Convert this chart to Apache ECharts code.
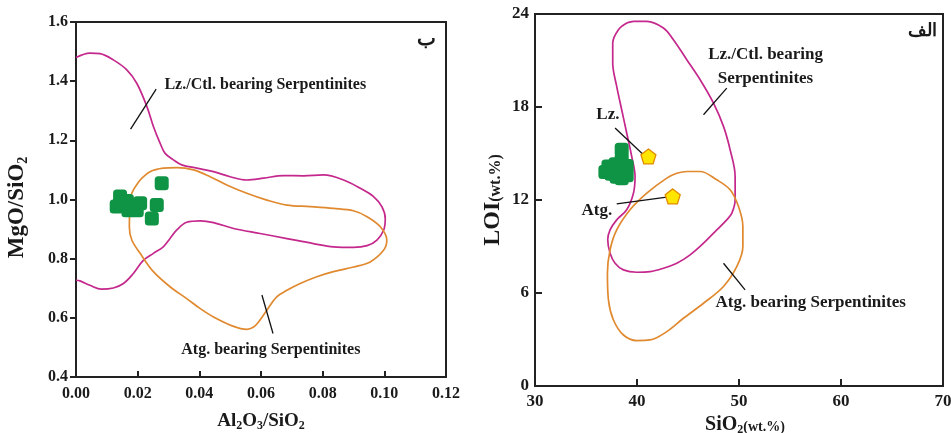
<!DOCTYPE html>
<html><head><meta charset="utf-8">
<script src="https://cdn.jsdelivr.net/npm/echarts@6/dist/echarts.min.js"></script>
<style>html,body{margin:0;padding:0;background:#fff}#c{width:951px;height:433px}</style>
</head><body><div id="c"></div>
<script>
// ---------- Left diagram (ب): Al2O3/SiO2 vs MgO/SiO2 ----------
const leftLzCtl = [[0,1.480],[0.0045,1.495],[0.0078,1.493],[0.0121,1.472],[0.0164,1.439],[0.0197,1.393],[0.023,1.314],[0.0251,1.247],[0.0273,1.190],[0.0289,1.156],[0.0316,1.134],[0.0343,1.117],[0.0392,1.106],[0.0446,1.094],[0.050,1.077],[0.0554,1.066],[0.0608,1.072],[0.0673,1.081],[0.0738,1.080],[0.0803,1.083],[0.0868,1.066],[0.0922,1.038],[0.0965,1.010],[0.0992,0.976],[0.1003,0.936],[0.0998,0.897],[0.0976,0.863],[0.0944,0.844],[0.090,0.838],[0.0835,0.840],[0.077,0.851],[0.0684,0.868],[0.0597,0.885],[0.0511,0.902],[0.0446,0.922],[0.0403,0.928],[0.0359,0.923],[0.0327,0.897],[0.0305,0.868],[0.0283,0.840],[0.0251,0.818],[0.0219,0.795],[0.0186,0.750],[0.0154,0.716],[0.0121,0.701],[0.0083,0.697],[0.0045,0.710],[0.0013,0.725],[0,0.727]];
const leftAtg = [[0.0208,1.066],[0.024,1.094],[0.0283,1.106],[0.0327,1.108],[0.0381,1.100],[0.0435,1.077],[0.0489,1.049],[0.0554,1.021],[0.0619,0.998],[0.0684,0.981],[0.076,0.976],[0.0835,0.970],[0.090,0.962],[0.0944,0.942],[0.0987,0.908],[0.1008,0.863],[0.0998,0.829],[0.0954,0.789],[0.090,0.772],[0.0835,0.756],[0.0781,0.739],[0.0727,0.716],[0.0684,0.693],[0.0651,0.671],[0.0619,0.626],[0.0592,0.586],[0.0576,0.569],[0.0554,0.561],[0.0511,0.571],[0.0446,0.603],[0.0403,0.631],[0.0359,0.665],[0.0305,0.705],[0.0251,0.756],[0.0208,0.818],[0.0181,0.863],[0.0173,0.908],[0.0175,0.976],[0.0181,1.021],[0.0208,1.066]];
const leftSamples = [[0.0143,1.010],[0.0132,0.976],[0.0154,0.987],[0.0170,0.964],[0.0186,0.981],[0.0208,0.987],[0.0197,0.964],[0.0165,0.995],[0.0246,0.936],[0.0262,0.981],[0.0278,1.055]];
const leftXTicks = {min:0, max:0.12, step:0.02};
const leftYTicks = {min:0.4, max:1.6, step:0.2};

// ---------- Right diagram (الف): SiO2 vs LOI ----------
const rightLzCtl = [[39.65,23.53],[40.96,23.53],[42.59,23.10],[43.57,22.34],[44.88,21.05],[46.19,19.76],[47.5,18.25],[48.48,16.75],[49.13,15.24],[49.62,13.52],[49.62,12.01],[49.3,11.15],[48.8,10.72],[47.82,10.07],[46.52,9.21],[45.21,8.46],[43.9,7.92],[42.59,7.60],[41.28,7.38],[39.98,7.34],[38.67,7.49],[37.85,7.92],[37.36,8.57],[37.13,9.43],[37.36,10.07],[38.01,10.72],[38.99,11.37],[39.65,12.44],[39.81,13.52],[39.48,14.81],[38.99,16.32],[38.5,17.82],[38.01,19.33],[37.62,20.84],[37.62,22.13],[38.18,22.99],[39.0,23.42],[39.65,23.53]];
const rightAtg = [[44.88,13.84],[46.19,13.84],[47.82,13.30],[49.13,12.66],[49.95,11.58],[50.38,10.29],[50.38,9.0],[49.79,7.71],[48.48,6.42],[46.52,5.34],[44.55,4.37],[42.92,3.51],[41.28,2.97],[39.98,2.93],[38.67,3.29],[37.69,4.26],[37.2,5.55],[37.1,7.28],[37.36,8.78],[38.01,10.07],[39.32,11.37],[40.96,12.44],[42.92,13.41],[43.9,13.73],[44.88,13.84]];
const rightSamples = [[38.5,15.24],[38.5,14.59],[38.5,13.95],[38.5,13.40],[37.2,14.16],[36.9,13.8],[37.5,13.7],[38.0,13.5],[38.99,13.6],[38.99,14.2],[37.9,14.3]];
const refLz = [[41.12,14.81]];
const refAtg = [[43.5,12.23]];
const rightXTicks = {min:30, max:70, step:10};
const rightYTicks = {min:0, max:24, step:6};

// ---------- Annotations (text and leader lines) ----------
const leftTexts = [
  {name:'Lz./Ctl. bearing Serpentinites', value:[0.0614,1.387]},
  {name:'Atg. bearing Serpentinites', value:[0.0632,0.492]}
];
const leftTag = [{name:'ب', value:[0.1138,1.539]}];
const leftLeaders = [
  [[0.0177,1.238],[0.0260,1.373]],
  [[0.0603,0.677],[0.0639,0.547]]
];
const rightTexts = [
  {name:'Lz./Ctl. bearing\nSerpentinites', value:[52.6,20.6]},
  {name:'Lz.', value:[37.15,17.49]},
  {name:'Atg.', value:[36.07,11.29]},
  {name:'Atg. bearing Serpentinites', value:[57.03,5.36]}
];
const rightTag = [{name:'الف', value:[68.0,22.86]}];
const rightLeaders = [
  [[46.52,17.5],[48.8,19.22]],
  [[37.85,16.64],[40.63,14.92]],
  [[38.01,11.75],[42.92,12.18]],
  [[48.48,7.92],[50.6,6.2]]
];

const MAG = '#c4288c', ORA = '#e0892f', GRN = '#0f9445';
const FONT = '"Liberation Serif", "DejaVu Serif", serif';
const lbl = {fontFamily: FONT, fontWeight: 'bold', color: '#1a1a1a'};
const pent = 'path://M0,-10 L9.5,-3.1 L5.9,8.1 L-5.9,8.1 L-9.5,-3.1 Z';

function axis(t, idx, extra) {
  return Object.assign({
    type: 'value', gridIndex: idx, min: t.min, max: t.max, interval: t.step,
    splitLine: {show: false},
    axisLine: {show: true, lineStyle: {color: '#222', width: 2}},
    axisTick: {show: true, length: 6, lineStyle: {color: '#222', width: 2}},
    axisLabel: Object.assign({fontSize: 16}, lbl),
    nameLocation: 'middle'
  }, extra);
}
function rich(big, sub, small) {
  return {
    a: {fontFamily: FONT, fontWeight: 'bold', fontSize: big, color: '#1a1a1a'},
    s: {fontFamily: FONT, fontWeight: 'bold', fontSize: sub, color: '#1a1a1a', padding: [Math.round(big * 0.5), 0, 0, 0]},
    w: {fontFamily: FONT, fontWeight: 'bold', fontSize: small, color: '#1a1a1a', padding: [Math.round(big * 0.25), 0, 0, 0]}
  };
}
function line(data, color, xi, smooth) {
  return {type: 'line', xAxisIndex: xi, yAxisIndex: xi, data: data, symbol: 'none',
    smooth: smooth, lineStyle: {color: color, width: 1.7}, silent: true, z: 2};
}
function leaders(list, xi) {
  return list.map(d => ({type: 'line', xAxisIndex: xi, yAxisIndex: xi, data: d, symbol: 'none',
    lineStyle: {color: '#111', width: 1.3}, silent: true, z: 3}));
}
function texts(list, xi, size, lh) {
  return {type: 'scatter', xAxisIndex: xi, yAxisIndex: xi, data: list, symbolSize: 0, z: 5,
    itemStyle: {opacity: 1},
    label: Object.assign({show: true, position: 'inside', formatter: p => p.name, fontSize: size,
      lineHeight: lh || 24, align: 'center', textBorderWidth: 0}, lbl)};
}

const chart = echarts.init(document.getElementById('c'));
chart.setOption({
  animation: false,
  grid: [
    {left: 76, top: 22, width: 370, height: 355, show: true, borderColor: '#222', borderWidth: 2,
      containLabel: false, outerBoundsMode: 'none'},
    {left: 535, top: 14, width: 408, height: 372, show: true, borderColor: '#222', borderWidth: 2,
      containLabel: false, outerBoundsMode: 'none'}
  ],
  xAxis: [
    axis(leftXTicks, 0, {axisLabel: Object.assign({fontSize: 16, margin: 9, formatter: v => v.toFixed(2)}, lbl),
      axisTick: {show: true, inside: true, length: 6, lineStyle: {color: '#222', width: 2}},
      name: '{a|Al}{s|2}{a|O}{s|3}{a|/SiO}{s|2}', nameGap: 33, nameTextStyle: {rich: rich(19, 12, 14)}}),
    axis(rightXTicks, 1, {axisLabel: Object.assign({fontSize: 17, margin: 7}, lbl),
      axisTick: {show: true, inside: true, length: 7, lineStyle: {color: '#222', width: 2}},
      name: '{a|SiO}{s|2}{w|(wt.%)}', nameGap: 25, nameTextStyle: {rich: rich(20, 12, 14), padding: [0, 0, 0, 12]}})
  ],
  yAxis: [
    axis(leftYTicks, 0, {axisLabel: Object.assign({fontSize: 16, margin: 8, formatter: v => v.toFixed(1)}, lbl),
      name: '{a|MgO/SiO}{s|2}', nameGap: 46, nameTextStyle: {rich: rich(23, 14, 14), padding: [0, 16, 0, 0]}}),
    axis(rightYTicks, 1, {axisLabel: Object.assign({fontSize: 17, margin: 6}, lbl),
      axisTick: {show: true, inside: true, length: 7, lineStyle: {color: '#222', width: 2}},
      name: '{a|LOI}{w|(wt.%)}', nameGap: 30, nameTextStyle: {rich: rich(24, 14, 16)}})
  ],
  series: [
    line(leftLzCtl, MAG, 0, 0.35),
    line(leftAtg, ORA, 0, 0.35),
    {type: 'scatter', xAxisIndex: 0, yAxisIndex: 0, data: leftSamples, symbol: 'roundRect',
      symbolSize: 14, itemStyle: {color: GRN, opacity: 1}, z: 4},
    ...leaders(leftLeaders, 0),
    texts(leftTexts, 0, 16),
    texts(leftTag, 0, 20),
    line(rightLzCtl, MAG, 1, 0.35),
    line(rightAtg, ORA, 1, 0.35),
    {type: 'scatter', xAxisIndex: 1, yAxisIndex: 1, data: rightSamples, symbol: 'roundRect',
      symbolSize: 14, itemStyle: {color: GRN, opacity: 1}, z: 4},
    {type: 'scatter', xAxisIndex: 1, yAxisIndex: 1, data: refLz, symbol: pent, symbolSize: 15,
      itemStyle: {color: '#ffe600', borderColor: '#e08a00', borderWidth: 1.3, opacity: 1}, z: 6},
    {type: 'scatter', xAxisIndex: 1, yAxisIndex: 1, data: refAtg, symbol: pent, symbolSize: 15,
      itemStyle: {color: '#ffe600', borderColor: '#e08a00', borderWidth: 1.3, opacity: 1}, z: 6},
    ...leaders(rightLeaders, 1),
    texts(rightTexts, 1, 17, 24),
    texts(rightTag, 1, 18)
  ]
});
</script></body></html>
